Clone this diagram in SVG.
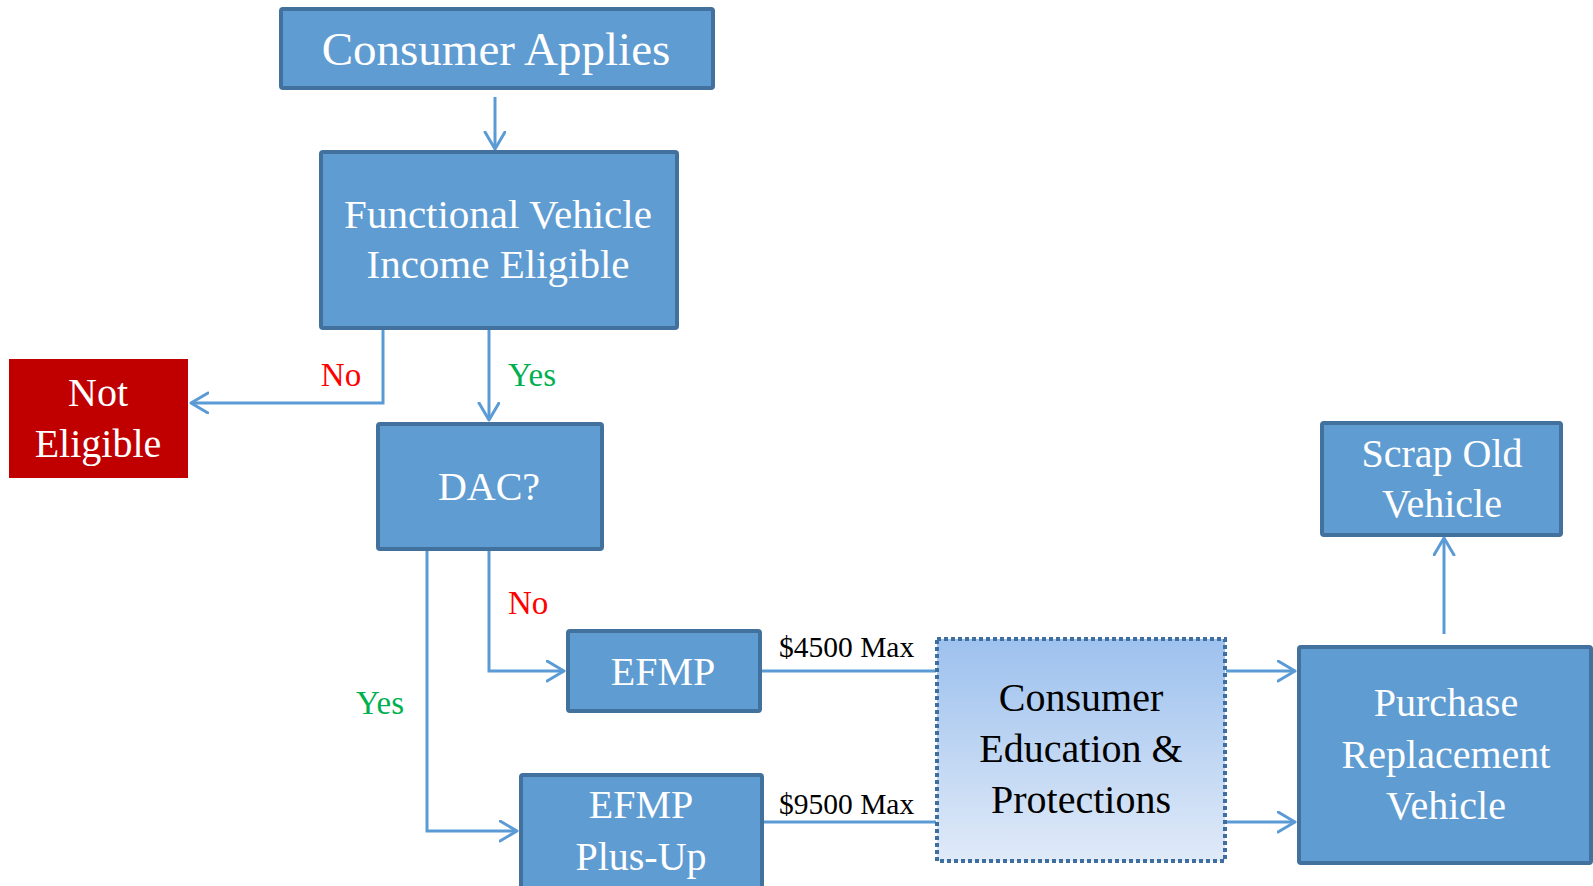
<svg xmlns="http://www.w3.org/2000/svg" width="1593" height="886" viewBox="0 0 1593 886">
  <defs>
    <style>
      .box { fill: #5F9CD2; stroke: #41719C; stroke-width: 4; }
      .txt { font-family: "Liberation Serif", "Times New Roman", serif; fill: #FFFFFF; font-size: 40px; text-anchor: middle; }
      .title { font-size: 47px; }
      .wide { font-size: 41px; }
      .dark { fill: #000000; }
      .lbl { font-family: "Liberation Serif", "Times New Roman", serif; font-size: 33px; }
      .no { fill: #FF0000; }
      .yes { fill: #00B050; }
      .amt { font-family: "Liberation Serif", "Times New Roman", serif; font-size: 29.5px; fill: #000000; }
      .conn { fill: none; stroke: #5B9BD5; stroke-width: 3; }
    </style>
    <linearGradient id="eduFill" x1="0" y1="0" x2="0" y2="1">
      <stop offset="0" stop-color="#9DC1EE"/>
      <stop offset="1" stop-color="#E0EAF8"/>
    </linearGradient>
    <marker id="arrow" markerUnits="userSpaceOnUse" markerWidth="22" markerHeight="26" refX="18" refY="11" orient="auto" viewBox="0 0 22 26">
      <path d="M1,1 L18,11 L1,21" fill="none" stroke="#5B9BD5" stroke-width="3" stroke-linecap="round" stroke-linejoin="round"/>
    </marker>
  </defs>

  <rect width="1593" height="886" fill="#FFFFFF"/>

  <!-- connectors -->
  <g id="connectors">
    <path class="conn" d="M495,97 L495,149" marker-end="url(#arrow)"/>
    <path class="conn" d="M383,327 L383,403 L191,403" marker-end="url(#arrow)"/>
    <path class="conn" d="M489,327 L489,420" marker-end="url(#arrow)"/>
    <path class="conn" d="M489,549 L489,671 L564,671" marker-end="url(#arrow)"/>
    <path class="conn" d="M427,549 L427,831 L517,831" marker-end="url(#arrow)"/>
    <path class="conn" d="M761,671 L936,671"/>
    <path class="conn" d="M763,822 L936,822"/>
    <path class="conn" d="M1226,671 L1295,671" marker-end="url(#arrow)"/>
    <path class="conn" d="M1226,822 L1295,822" marker-end="url(#arrow)"/>
    <path class="conn" d="M1444,634 L1444,538" marker-end="url(#arrow)"/>

    <text class="lbl no" x="341" y="386" text-anchor="middle">No</text>
    <text class="lbl yes" x="508" y="386">Yes</text>
    <text class="lbl no" x="508" y="614">No</text>
    <text class="lbl yes" x="356" y="714">Yes</text>
    <text class="amt" x="779" y="657">$4500 Max</text>
    <text class="amt" x="779" y="814">$9500 Max</text>
  </g>

  <g id="consumer-applies">
    <rect class="box" x="281" y="9" width="432" height="79" rx="2"/>
    <text class="txt title" x="496" y="65">Consumer Applies</text>
  </g>

  <g id="functional-vehicle">
    <rect class="box" x="321" y="152" width="356" height="176" rx="2"/>
    <text class="txt wide" x="498" y="228">Functional Vehicle</text>
    <text class="txt wide" x="498" y="278">Income Eligible</text>
  </g>

  <g id="not-eligible">
    <rect x="9" y="359" width="179" height="119" fill="#C00000"/>
    <text class="txt" x="98" y="406">Not</text>
    <text class="txt" x="98" y="457">Eligible</text>
  </g>

  <g id="dac">
    <rect class="box" x="378" y="424" width="224" height="125" rx="2"/>
    <text class="txt" x="489" y="500">DAC?</text>
  </g>

  <g id="efmp">
    <rect class="box" x="568" y="631" width="192" height="80" rx="2"/>
    <text class="txt" x="663" y="685">EFMP</text>
  </g>

  <g id="efmp-plus-up">
    <rect class="box" x="521" y="775" width="241" height="120" rx="2"/>
    <text class="txt" x="641" y="818">EFMP</text>
    <text class="txt" x="641" y="870">Plus-Up</text>
  </g>

  <g id="consumer-education">
    <rect x="937" y="639" width="288" height="222" fill="url(#eduFill)" stroke="#3F6F9E" stroke-width="4" stroke-dasharray="4 3"/>
    <text class="txt dark" x="1081" y="711">Consumer</text>
    <text class="txt dark" x="1081" y="762">Education &amp;</text>
    <text class="txt dark" x="1081" y="813">Protections</text>
  </g>

  <g id="purchase-replacement">
    <rect class="box" x="1299" y="647" width="292" height="216" rx="2"/>
    <text class="txt" x="1446" y="716">Purchase</text>
    <text class="txt" x="1446" y="768">Replacement</text>
    <text class="txt" x="1446" y="819">Vehicle</text>
  </g>

  <g id="scrap-old-vehicle">
    <rect class="box" x="1322" y="423" width="239" height="112" rx="2"/>
    <text class="txt" x="1442" y="467">Scrap Old</text>
    <text class="txt" x="1442" y="517">Vehicle</text>
  </g>
</svg>
